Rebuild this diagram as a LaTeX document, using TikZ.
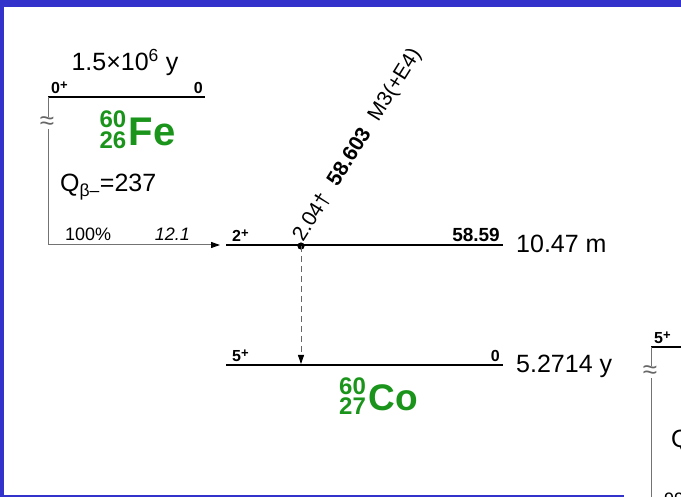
\documentclass[tikz,border=0pt]{standalone}
\usepackage{fontspec}
\setmainfont{Liberation Sans}
\usetikzlibrary{arrows.meta,positioning}
\definecolor{frameblue}{RGB}{51,51,204}
\definecolor{nucgreen}{RGB}{26,148,26}
\newcommand{\parity}[1]{\raisebox{0.45ex}{\fontsize{13}{13}\selectfont #1}}

\begin{document}
\begin{tikzpicture}[x=1pt, y=-1pt, font=\fontsize{25}{28}\selectfont]
\tikzstyle{level}=[line width=2.3pt]
\tikzstyle{feed}=[line width=1pt, black!55]
\tikzstyle{spin}=[font=\bfseries\fontsize{16}{16}\selectfont, inner sep=1pt]
\tikzstyle{elev}=[font=\bfseries\fontsize{19}{19}\selectfont, inner sep=1pt]
\tikzstyle{small}=[font=\fontsize{18}{18}\selectfont, inner sep=0pt]
\tikzstyle{nuc}=[text=nucgreen, font=\bfseries\fontsize{40}{40}\selectfont, inner sep=0pt]
\tikzstyle{nucnum}=[text=nucgreen, font=\bfseries\fontsize{24}{24}\selectfont, inner sep=0pt]
\tikzstyle{brk}=[text=black!60, fill=white, inner sep=0pt, font=\fontsize{26}{26}\selectfont]
\useasboundingbox (0,0) rectangle (681,497);
\clip (0,0) rectangle (681,497);
% frame
\fill[frameblue] (0,0) rectangle (681,7);
\fill[frameblue] (0,0) rectangle (3.5,497);
\fill[frameblue] (0,495.2) rectangle (624,497);

% 60Fe parent
\coordinate (fe0) at (48,97);
\coordinate (fe1) at (205,97);
\coordinate (feDrop) at (48,245);
\draw[level] (fe0) -- (fe1);
\node[spin, anchor=south west] (feJ) at (50,95) {0\parity{+}};
\node[spin, anchor=south east] (feE) at (204,95) {0};
\node[anchor=base] (feT) at (125,71) {1.5×10\textsuperscript{6} y};
\node[nuc] (fe) at (152,131.5) {Fe};
\node[nucnum, anchor=south east] (feA) at ([xshift=-2pt, yshift=4pt]fe.west) {60};
\node[nucnum, anchor=north east] (feZ) at ([xshift=-2pt, yshift=0pt]fe.west) {26};
\node[anchor=base west, inner sep=0pt] (feQ) at (60,192) {Q\textsubscript{β–}=237};

% 60Co levels
\coordinate (co2a) at (226,245);
\coordinate (co2b) at (503,245);
\coordinate (co5a) at (226,365);
\coordinate (co5b) at (503,365);
\draw[level] (co2a) -- (co2b);
\draw[level] (co5a) -- (co5b);
\node[spin, anchor=south west] (co2J) at (231,243) {2\parity{+}};
\node[elev, anchor=south east] (co2E) at (501,243) {58.59};
\node[anchor=base west, inner sep=0pt] (co2T) at (516,253) {10.47 m};
\node[spin, anchor=south west] (co5J) at (231,363) {5\parity{+}};
\node[spin, anchor=south east] (co5E) at (501,363) {0};
\node[anchor=base west, inner sep=0pt] (co5T) at (516,373) {5.2714 y};
\node[nuc, font=\bfseries\fontsize{37}{37}\selectfont] (co) at (393,397.5) {Co};
\node[nucnum, anchor=south east] (coA) at ([xshift=-2pt, yshift=3pt]co.west) {60};
\node[nucnum, anchor=north east] (coZ) at ([xshift=-2pt, yshift=0pt]co.west) {27};

% beta feeding
\draw[feed, -{Triangle[length=9pt, width=6pt, color=black]}] (fe0) -- (feDrop) -- ([xshift=-6pt]co2a);
\node[brk] (feBrk) at (47,123) {≈};
\node[small, anchor=base west] (feI) at (65,241) {100\%};
\node[small, anchor=base east] (feLogft) at (190,241) {\itshape 12.1};

% gamma
\coordinate (g2) at (301,246);
\coordinate (g5) at (301,364);
\fill (g2) circle (3.6);
\draw[black!60, line width=0.9pt, dash pattern=on 6pt off 4pt, -{Triangle[length=9pt, width=6pt, color=black]}] (g2) -- (g5);
\node[anchor=base west, rotate=58, inner sep=0pt, font=\fontsize{21}{21}\selectfont] (gLab) at (303,243)
  {2.04†\hspace{0.6em}\textbf{58.603}\hspace{0.6em}M3(+E4)};

% neighbouring scheme, cut off
\coordinate (nb0) at (651,347);
\coordinate (nb1) at (690,347);
\coordinate (nbDrop) at (651,520);
\draw[level] (nb0) -- (nb1);
\draw[feed] (nb0) -- (nbDrop);
\node[spin, anchor=south west] (nbJ) at (653,345) {5\parity{+}};
\node[brk] (nbBrk) at (650,372) {≈};
\node[anchor=base west, inner sep=0pt] (nbQ) at (671,448) {Q};
\node[small, anchor=base west] (nbI) at (664,505) {99};
\end{tikzpicture}
\end{document}
